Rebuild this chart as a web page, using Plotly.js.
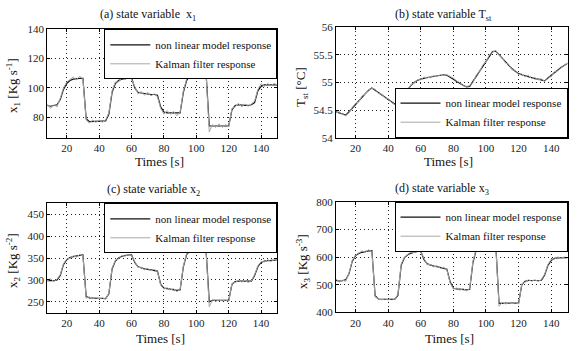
<!DOCTYPE html>
<html>
<head>
<meta charset="utf-8">
<script src="https://cdn.plot.ly/plotly-3.0.1.min.js"></script>
<style>
html,body{margin:0;padding:0;background:#fff;overflow:hidden;}
</style>
</head>
<body>
<div id="chart"></div>
<script>
// Time axis [s]
const time = [8,10,12,14,16,18,20,22,24,26,28,30,32,34,36,38,40,42,44,46,48,50,52,54,56,58,60,62,64,66,68,70,72,74,76,78,80,82,84,86,88,90,92,94,96,98,100,102,104,106,108,110,112,114,116,118,120,122,124,126,128,130,132,134,136,138,140,142,144,146,148,150];

// (a) state variable x1
const x1Model = [88,87.5,88,88.5,92,99,103,105,106,106.5,
  106.5,106.5,79,77,77,77,77.5,77.5,77.5,82,
  97,103,105,106,106.5,107,107,100,97,96.5,
  96,96,95.5,95.5,95,87,83.5,83,83,83,
  82.5,83,97,105,108.5,110,111,111,111,110.5,
  74,74,74,74.5,74,74,74,85,88,88.5,
  88,88,88,88.5,90,98,101,102,102,102,
  102,102];
const x1Kalman = [89,86,88.5,87,93,100,104,106,107.5,105.5,
  108,106,78,76,78,76.5,78,76.5,78,83,
  98,104,104,107,105.5,107.5,106,101,96,97.5,
  95,97,94.5,96,94,86,82,84.5,82,84,
  81,83.5,98,106,109.5,109,112,110,112,110,
  70,75,73,75.5,73,75,73.5,86,87,89.5,
  87,89,87.5,89,91,99,103,101,103,101.5,
  103,102];

// (b) state variable Tst
const tstModel = [54.47,54.45,54.43,54.41,54.47,54.54,54.6,54.67,54.74,54.8,
  54.86,54.9,54.86,54.82,54.78,54.74,54.7,54.66,54.61,54.62,
  54.7,54.8,54.88,54.95,55.0,55.04,55.06,55.08,55.09,55.1,
  55.11,55.12,55.13,55.14,55.13,55.1,55.06,55.02,54.98,54.95,
  54.92,54.93,55.02,55.11,55.2,55.3,55.39,55.48,55.56,55.57,
  55.5,55.43,55.37,55.31,55.25,55.2,55.16,55.14,55.12,55.1,
  55.09,55.07,55.06,55.04,55.03,55.08,55.13,55.18,55.23,55.27,
  55.31,55.35];
const tstKalman = [54.45,54.47,54.42,54.4,54.45,54.55,54.62,54.65,54.76,54.79,
  54.87,54.89,54.88,54.8,54.79,54.72,54.71,54.64,54.6,54.64,
  54.68,54.82,54.87,54.96,54.99,55.05,55.05,55.1,55.08,55.11,
  55.12,55.11,55.14,55.13,55.14,55.11,55.08,55.03,55.0,54.94,
  54.93,54.94,55.0,55.13,55.19,55.32,55.37,55.5,55.55,55.58,
  55.49,55.45,55.35,55.33,55.23,55.22,55.14,55.16,55.1,55.13,
  55.07,55.09,55.05,55.07,55.02,55.1,55.1,55.2,55.21,55.27,
  55.3,55.36];

// (c) state variable x2
const x2Model = [298,299,298,300,310,335,346,351,353,355,
  356,357,262,259,258,258,258,258,257,268,
  325,343,350,354,356,357,357,340,330,327,
  325,324,323,322,320,290,281,280,279,278,
  276,277,330,358,366,369,371,371,371,369,
  250,253,253,253,253,253,253,290,296,297,
  297,297,296,297,310,330,340,343,344,344,
  345,345];
const x2Kalman = [297,303,296,302,312,337,348,349,355,352,
  358,355,258,261,257,260,257,259,256,270,
  327,345,348,356,354,358,356,342,328,329,
  323,326,321,324,319,288,279,282,277,280,
  273,278,332,360,364,370,370,372,370,368,
  238,255,251,254,252,254,251,292,294,299,
  295,299,294,298,312,332,342,341,346,342,
  346,344];

// (d) state variable x3
const x3Model = [515,513,514,518,540,585,605,613,617,620,
  622,623,460,448,447,447,447,447,447,462,
  570,598,608,614,618,620,621,590,575,570,
  567,565,562,560,556,510,487,485,484,483,
  481,483,580,625,638,643,645,646,646,644,
  432,433,433,433,433,433,433,500,512,515,
  515,515,514,516,535,570,588,595,597,597,
  598,598];
const x3Kalman = [520,510,516,512,543,588,607,616,622,618,
  626,620,455,450,445,449,445,449,446,465,
  575,600,610,618,616,622,619,593,572,573,
  564,568,559,563,553,506,484,488,480,486,
  478,486,585,628,640,646,643,648,645,640,
  422,436,430,435,431,435,430,503,509,518,
  512,518,511,519,538,573,592,593,600,595,
  600,597];

const timeTicks = [20,40,60,80,100,120,140];
const seriesNames = ['non linear model response','Kalman filter response'];

const SERIF = 'serif';

const panels = [
  {xa:'x', ya:'y', lg:'legend', model:x1Model, kalman:x1Kalman},
  {xa:'x2', ya:'y2', lg:'legend2', model:tstModel, kalman:tstKalman},
  {xa:'x3', ya:'y3', lg:'legend3', model:x2Model, kalman:x2Kalman},
  {xa:'x4', ya:'y4', lg:'legend4', model:x3Model, kalman:x3Kalman}
];

const traces = [];
panels.forEach(p => {
  traces.push({x:time, y:p.model, type:'scatter', mode:'lines', name:seriesNames[0],
    xaxis:p.xa, yaxis:p.ya, legend:p.lg, line:{color:'#111', width:1.2}});
  traces.push({x:time, y:p.kalman, type:'scatter', mode:'lines', name:seriesNames[1],
    xaxis:p.xa, yaxis:p.ya, legend:p.lg, line:{color:'#a8a8a8', width:1}});
});

function axisBase(extra){
  return Object.assign({
    showline:true, linecolor:'#000', linewidth:1, mirror:'ticks',
    ticks:'inside', ticklen:3, tickcolor:'#000', tickwidth:1,
    showgrid:true, gridcolor:'#222', griddash:'1px,3px', gridwidth:1,
    zeroline:false, fixedrange:true,
    tickfont:{family:SERIF, size:11, color:'#222'}
  }, extra);
}

const xL = [47.3/580, 277.3/580];
const xR = [336/580, 567.5/580];

function legendCfg(x, y, yanchor){
  return {x:x, xanchor:'right', y:y, yanchor:yanchor, bgcolor:'#fff',
    bordercolor:'#000', borderwidth:1, itemwidth:40, tracegroupgap:0,
    font:{family:SERIF, size:11, color:'#111'}};
}

const yDomA = [1-137.7/351, 1-29.3/351];
const yDomB = [1-137.7/351, 1-27.3/351];
const yDomC = [1-312.7/351, 1-203.3/351];
const yDomD = [1-312.3/351, 1-201.7/351];

function ann(text, xpx, ypx, size, angle){
  return {text:text, x:xpx/580, y:1-ypx/351, xref:'paper', yref:'paper',
    showarrow:false, xanchor:'center', yanchor:'middle', textangle:angle||0,
    font:{family:SERIF, size:size, color:'#111'}};
}
const mx = 'x';

const layout = {
  width:580, height:351,
  margin:{l:0, r:0, t:0, b:0},
  paper_bgcolor:'#fff', plot_bgcolor:'#fff',
  font:{family:SERIF, size:12, color:'#111'},
  showlegend:true,
  xaxis: axisBase({domain:xL, anchor:'y', range:[8,150], tickvals:timeTicks}),
  yaxis: axisBase({domain:yDomA, anchor:'x', range:[66,140], tickvals:[80,100,120,140]}),
  xaxis2: axisBase({domain:xR, anchor:'y2', range:[8,150], tickvals:timeTicks}),
  yaxis2: axisBase({domain:yDomB, anchor:'x2', range:[54,56], tickvals:[54,54.5,55,55.5,56], ticktext:['54','54.5','55','55.5','56']}),
  xaxis3: axisBase({domain:xL, anchor:'y3', range:[8,150], tickvals:timeTicks}),
  yaxis3: axisBase({domain:yDomC, anchor:'x3', range:[225,475], tickvals:[250,300,350,400,450]}),
  xaxis4: axisBase({domain:xR, anchor:'y4', range:[8,150], tickvals:timeTicks}),
  yaxis4: axisBase({domain:yDomD, anchor:'x4', range:[400,800], tickvals:[400,500,600,700,800]}),
  legend: legendCfg(xL[1], yDomA[1], 'top'),
  legend2: legendCfg(xR[1], yDomB[0], 'bottom'),
  legend3: legendCfg(xL[1], yDomC[1], 'top'),
  legend4: legendCfg(xR[1], yDomD[1], 'top'),
  annotations: [
    ann('(a) state variable  ' + mx + '<sub>1</sub>', 148, 15, 12),
    ann('(b) state variable T<sub>st</sub>', 443, 15, 12),
    ann('(c) state variable ' + mx + '<sub>2</sub>', 153, 190, 12),
    ann('(d) state variable ' + mx + '<sub>3</sub>', 442, 189, 12),
    ann('Times [s]', 159, 161, 13),
    ann('Times [s]', 448, 161, 13),
    ann('Times [s]', 160, 338, 13),
    ann('Times [s]', 449, 338, 13),
    ann(mx + '<sub>1</sub> [Kg s<sup>-1</sup>]', 13, 86, 13, -90),
    ann('T<sub>st</sub> [°C]', 301, 87, 13, -90),
    ann(mx + '<sub>2</sub> [Kg s<sup>-2</sup>]', 13, 261, 13, -90),
    ann(mx + '<sub>3</sub> [Kg s<sup>-3</sup>]', 303, 262, 13, -90)
  ]
};

Plotly.newPlot('chart', traces, layout, {displayModeBar:false});
</script>
</body>
</html>
